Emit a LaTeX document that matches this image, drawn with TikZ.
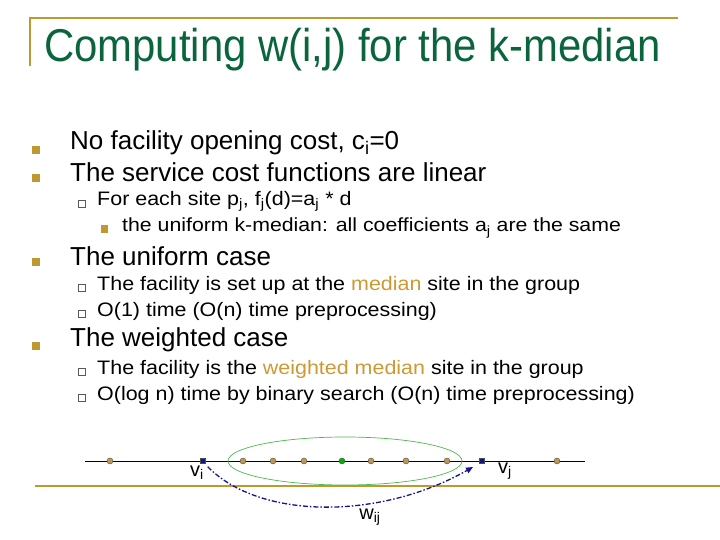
\documentclass[tikz,border=0pt]{standalone}
\usepackage{fontspec}
\setmainfont{Liberation Sans}
\usetikzlibrary{arrows.meta}
\definecolor{gold}{RGB}{192,152,48}
\definecolor{ttl}{RGB}{10,100,60}
\definecolor{med}{RGB}{204,153,51}
\definecolor{dotc}{RGB}{190,150,80}
\definecolor{navy}{RGB}{20,20,140}
\begin{document}
\begin{tikzpicture}[x=1pt,y=-1pt,
 lone/.style={anchor=west,font=\fontsize{26}{30}\selectfont,inner sep=0},
 ltwo/.style={anchor=west,font=\fontsize{19.5}{22}\selectfont,inner sep=0,xscale=1.1},
 lthree/.style={anchor=west,font=\fontsize{19}{22}\selectfont,inner sep=0,xscale=1.12},
 bone/.style={fill=gold,minimum size=8pt,inner sep=0},
 btwo/.style={draw=gray!70!black,fill=white,minimum size=6.5pt,inner sep=0,line width=0.6pt},
 bthree/.style={fill=gold,minimum size=7pt,inner sep=0},
 site/.style={circle,draw=black!70,fill=dotc,minimum size=6pt,inner sep=0,line width=0.4pt},
 ep/.style={draw=black!70,fill=navy,minimum size=5pt,inner sep=0}]
\useasboundingbox (0,0) rectangle (720,540);
\draw[gold,line width=2.5pt] (30,18) -- (678,18);
\draw[gold,line width=2.5pt] (30,17) -- (30,66);
\node[anchor=west,text=ttl,font=\fontsize{46}{50}\selectfont,inner sep=0,xscale=0.91] (title) at (44,50) {Computing w(i,j) for the k-median};
% level 1
\node[bone] (b1) at (36,150) {}; \node[lone] (t1) at (70,143) {No facility opening cost, c\textsubscript{i}=0};
\node[bone] (b2) at (36,178) {}; \node[lone] (t2) at (70,172) {The service cost functions are linear};
\node[btwo] (b3) at (82,204) {}; \node[ltwo] (t3) at (97,201) {For each site p\textsubscript{j}, f\textsubscript{j}(d)=a\textsubscript{j} * d};
\node[bthree] (b4) at (104,229) {}; \node[lthree] (t4) at (122,228) {the uniform k-median: all coefficients a\textsubscript{j} are the same};
\node[bone] (b5) at (36,262) {}; \node[lone] (t5) at (70,256) {The uniform case};
\node[btwo] (b6) at (82,288) {}; \node[ltwo] (t6) at (97,285) {The facility is set up at the \textcolor{med}{median} site in the group};
\node[btwo] (b7) at (82,314) {}; \node[ltwo] (t7) at (97,311) {O(1) time (O(n) time preprocessing)};
\node[bone] (b8) at (36,346) {}; \node[lone] (t8) at (70,340) {The weighted case};
\node[btwo] (b9) at (82,372) {}; \node[ltwo] (t9) at (97,369) {The facility is the \textcolor{med}{weighted median} site in the group};
\node[btwo] (b10) at (82,398) {}; \node[ltwo] (t10) at (97,395) {O(log n) time by binary search (O(n) time preprocessing)};
% bottom
\draw[gold,line width=2.5pt] (35,486) -- (720,486);
\coordinate (la) at (85,461); \coordinate (lb) at (585,461);
\draw[black,line width=0.6pt] (la) -- (lb);
\draw[green!60!black!70,line width=0.7pt] (345,461) ellipse (117 and 24);
\foreach \x/\n in {110/s1,243/s2,273/s3,304/s4,371/s6,406/s7,447/s8,557/s9} \node[site] (\n) at (\x,461) {};
\node[site,fill=green!70!black] (s5) at (342,461) {};
\node[ep] (vi) at (203,461) {};
\node[ep] (vj) at (482,461) {};
\node[font=\fontsize{20}{24}\selectfont] (lvi) at (197,473) {v\textsubscript{i}};
\node[font=\fontsize{20}{24}\selectfont] (lvj) at (505,471) {v\textsubscript{j}};
\node[font=\fontsize{20}{24}\selectfont] (lw) at (370,517) {w\textsubscript{ij}};
\draw[navy,line width=1.3pt,dash pattern=on 5pt off 2pt on 1.5pt off 2pt,-{Triangle[length=7pt,width=6pt]}]
 (vi.south east) ++(2,3) .. controls (260,520) and (380,520) .. (473,467);
\end{tikzpicture}
\end{document}
